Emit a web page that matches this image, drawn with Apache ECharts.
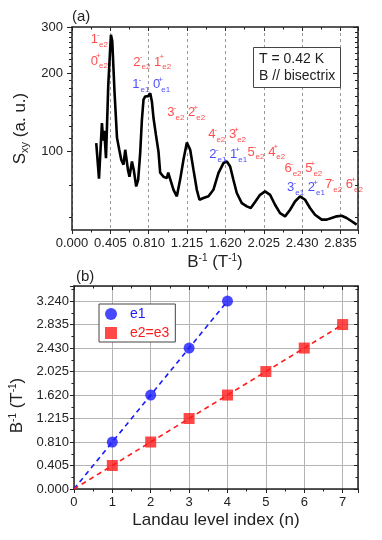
<!DOCTYPE html>
<html>
<head>
<meta charset="utf-8">
<script src="https://cdn.jsdelivr.net/npm/echarts@6/dist/echarts.min.js"></script>
<style>
  html, body { margin: 0; padding: 0; background: #fff; }
  #chart { width: 382px; height: 540px; }
</style>
</head>
<body>
<div id="chart"></div>
<script>
// (a) thermoelectric signal vs inverse field
const bInv = [0.256, 0.285, 0.316, 0.33, 0.341, 0.359, 0.383, 0.411, 0.425, 0.449, 0.475, 0.499, 0.52, 0.544,
  0.562, 0.591, 0.607, 0.633, 0.652, 0.678, 0.699, 0.72, 0.738, 0.755, 0.773, 0.805, 0.826, 0.844, 0.861,
  0.886, 0.913, 0.931, 0.966, 1.002, 1.016, 1.037, 1.072, 1.107, 1.142, 1.177, 1.213, 1.219, 1.248, 1.283,
  1.318, 1.346, 1.388, 1.441, 1.493, 1.546, 1.599, 1.635, 1.67, 1.704, 1.74, 1.793, 1.846, 1.888, 1.933,
  1.986, 2.039, 2.092, 2.144, 2.197, 2.25, 2.303, 2.355, 2.408, 2.461, 2.513, 2.566, 2.637, 2.689, 2.742,
  2.795, 2.848, 2.9, 2.953, 3.006];
const sxy = [107.7, 78.6, 128.5, 110, 120, 94.3, 180, 280, 265, 169, 113, 101.5, 93, 89,
  101.5, 85, 80, 91.5, 85, 73.4, 78, 98.6, 132, 158, 162.5, 163, 167, 155, 134,
  116, 100, 83, 80, 79, 83, 82, 71.3, 67.3, 78, 93, 108.3, 109, 101.5, 85,
  71.3, 65.3, 66.3, 67.3, 71.3, 82.6, 90.2, 91.5, 87.6, 77.9, 69.3, 63.4, 61.6, 60.7, 64,
  68.2, 70.3, 68.2, 62.5, 58, 56.4, 59.8, 64.3, 67.3, 65.3, 60.7, 57.2, 54.8, 54.8, 55.6,
  56.4, 56.7, 55.6, 54, 52.4];
const yMajor = [100, 200, 300];
const yMinor = [56, 74, 112.5, 125, 137.5, 150, 162.5, 175, 187.5, 212.5, 225, 237.5, 250, 262.5, 275, 287.5];

// peak assignments
const redLabX = [0.288, 0.288, 0.847, 1.206, 1.638, 2.052, 2.443, 2.872];
const redLabY = [268, 222, 220, 140.6, 115.8, 99.6, 85.8, 74.5];
const redLabText = ['1{p|-}{b|e2}', '0{p|+}{b|e2}', '2{p|-}{b|e2} 1{p|+}{b|e2}', '3{p|-}{b|e2} 2{p|+}{b|e2}',
  '4{p|-}{b|e2} 3{p|+}{b|e2}', '5{p|-}{b|e2} 4{p|+}{b|e2}', '6{p|-}{b|e2} 5{p|+}{b|e2}', '7{p|-}{b|e2} 6{p|+}{b|e2}'];
const blueLabX = [0.836, 1.649, 2.471];
const blueLabY = [180, 97.1, 72.6];
const blueLabText = ['1{p|-}{b|e1} 0{p|+}{b|e1}', '2{p|-}{b|e1} 1{p|+}{b|e1}', '3{p|-}{b|e1} 2{p|+}{b|e1}'];

// (b) Landau level index
const nE1 = [1, 2, 3, 4];
const bE1 = [0.81, 1.62, 2.43, 3.24];
const nE2 = [1, 2, 3, 4, 5, 6, 7];
const bE2 = [0.405, 0.81, 1.215, 1.62, 2.025, 2.43, 2.835];
const fitE1 = [[0, 0], [4, 3.24]];
const fitE2 = [[0, 0], [7, 2.835]];

const FONT = 'Liberation Sans, Arial, sans-serif';
const INK = '#222';
const fix3 = v => Number(v).toFixed(3);
const lg = v => Math.log10(v);

const frame = { show: true, onZero: false, lineStyle: { color: INK, width: 1.5 } };
const lbl = { fontFamily: FONT, fontSize: 13, color: INK };

// superscript takes no width so the subscript sits under it
const annRich = color => ({
  p: { fontFamily: FONT, fontSize: 8, color: color, verticalAlign: 'top', lineHeight: 18, width: 1 },
  b: { fontFamily: FONT, fontSize: 8, color: color, verticalAlign: 'bottom', lineHeight: 18 }
});

const chart = echarts.init(document.getElementById('chart'));
chart.setOption({
  animation: false,
  textStyle: { fontFamily: FONT },
  title: [
    { text: '(a)', left: 67, top: 4, textStyle: { fontSize: 15, fontWeight: 'normal', color: INK, fontFamily: FONT } },
    { text: '(b)', left: 71, top: 264, textStyle: { fontSize: 15, fontWeight: 'normal', color: INK, fontFamily: FONT } },
    { text: 'T = 0.42 K\nB // bisectrix', left: 253, top: 47, padding: [3, 6, 3, 6], z: 10,
      borderColor: '#444', borderWidth: 1, backgroundColor: '#fff',
      textStyle: { fontSize: 14, fontWeight: 'normal', color: INK, fontFamily: FONT, lineHeight: 17.5 } }
  ],
  legend: {
    left: 99, top: 304, orient: 'vertical', padding: [3, 6, 2, 6],
    borderColor: '#444', borderWidth: 1, itemWidth: 28, itemHeight: 12, itemGap: 5,
    backgroundColor: '#fff',
    textStyle: { fontFamily: FONT, fontSize: 14 },
    data: [
      { name: 'e1', icon: 'circle', textStyle: { color: '#1a1aff' } },
      { name: 'e2=e3', icon: 'path://M0,0L10,0L10,10L0,10Z', textStyle: { color: '#ff1a1a' } }
    ]
  },
  grid: [
    { left: 72, right: 24, top: 27, height: 203 },
    { left: 71, right: 24, top: 286, height: 203 }
  ],
  xAxis: [
    { type: 'value', gridIndex: 0, min: 0, max: 3.02, interval: 0.405,
      name: 'B{p|-1} (T{p|-1})', nameLocation: 'middle', nameGap: 23,
      nameTextStyle: { fontSize: 17, color: INK, fontFamily: FONT, rich: { p: { fontSize: 10, verticalAlign: 'top', lineHeight: 18, color: INK } } },
      axisLine: frame, axisTick: { inside: false, length: 4, lineStyle: { color: INK } },
      minorTick: { show: true, splitNumber: 2, length: 2.5, lineStyle: { color: INK } },
      axisLabel: Object.assign({ formatter: fix3, showMaxLabel: false, margin: 7 }, lbl),
      splitLine: { show: true, lineStyle: { color: '#999', type: [3, 3], width: 1 } } },
    { type: 'value', gridIndex: 0, position: 'top', min: 0, max: 3.02, interval: 0.405,
      axisLine: frame, axisTick: { inside: true, length: 4, lineStyle: { color: INK } },
      minorTick: { show: true, splitNumber: 2, length: 2.5, lineStyle: { color: INK } },
      axisLabel: { show: false }, splitLine: { show: false } },
    { type: 'value', gridIndex: 1, min: 0, max: 7.4, interval: 1,
      name: 'Landau level index (n)', nameLocation: 'middle', nameGap: 23,
      nameTextStyle: { fontSize: 17, color: INK, fontFamily: FONT },
      axisLine: frame, axisTick: { inside: false, length: 4, lineStyle: { color: INK } },
      minorTick: { show: true, splitNumber: 2, length: 2.5, lineStyle: { color: INK } },
      axisLabel: Object.assign({ showMaxLabel: false, margin: 7 }, lbl),
      splitLine: { show: true, lineStyle: { color: '#b4b4b4', width: 1 } } },
    { type: 'value', gridIndex: 1, position: 'top', min: 0, max: 7.4, interval: 1,
      axisLine: frame, axisTick: { inside: true, length: 4, lineStyle: { color: INK } },
      minorTick: { show: true, splitNumber: 2, length: 2.5, lineStyle: { color: INK } },
      axisLabel: { show: false }, splitLine: { show: false } }
  ],
  yAxis: [
    // log scale carrying the curve
    { type: 'log', gridIndex: 0, min: 50, max: 300, logBase: 10,
      axisLine: frame, axisTick: { show: false }, axisLabel: { show: false }, splitLine: { show: false } },
    // tick marks and labels at 100/200/300 laid on the same log positions
    { type: 'value', gridIndex: 0, position: 'left', min: lg(50), max: lg(300),
      name: 'S{b|xy} (a. u.)', nameLocation: 'middle', nameGap: 31,
      nameTextStyle: { fontSize: 17, color: INK, fontFamily: FONT, rich: { b: { fontSize: 11, verticalAlign: 'bottom', lineHeight: 20, color: INK } } },
      axisLine: { show: false },
      axisTick: { inside: false, length: 5, customValues: yMajor.map(lg), lineStyle: { color: INK } },
      axisLabel: Object.assign({ customValues: yMajor.map(lg), formatter: v => Math.round(Math.pow(10, v)), margin: 9 }, lbl),
      splitLine: { show: false } },
    { type: 'value', gridIndex: 0, position: 'left', min: lg(50), max: lg(300),
      axisLine: { show: false },
      axisTick: { inside: false, length: 3, customValues: yMinor.map(lg), lineStyle: { color: INK } },
      axisLabel: { show: false }, splitLine: { show: false } },
    { type: 'value', gridIndex: 0, position: 'right', min: lg(50), max: lg(300),
      axisLine: frame,
      axisTick: { inside: true, length: 5, customValues: yMajor.map(lg), lineStyle: { color: INK } },
      axisLabel: { show: false }, splitLine: { show: false } },
    { type: 'value', gridIndex: 0, position: 'right', min: lg(50), max: lg(300),
      axisLine: { show: false },
      axisTick: { inside: true, length: 3, customValues: yMinor.map(lg), lineStyle: { color: INK } },
      axisLabel: { show: false }, splitLine: { show: false } },
    { type: 'value', gridIndex: 1, min: 0, max: 3.5, interval: 0.405,
      name: 'B{p|-1} (T{p|-1}){g|}', nameLocation: 'middle', nameGap: 46,
      nameTextStyle: { fontSize: 17, color: INK, fontFamily: FONT, rich: {
        p: { fontSize: 10, verticalAlign: 'top', lineHeight: 18, color: INK },
        g: { width: 36 } } },
      axisLine: frame, axisTick: { inside: false, length: 4, lineStyle: { color: INK } },
      minorTick: { show: true, splitNumber: 2, length: 2.5, lineStyle: { color: INK } },
      axisLabel: Object.assign({ formatter: fix3, showMaxLabel: false, margin: 5 }, lbl),
      splitLine: { show: true, lineStyle: { color: '#b4b4b4', width: 1 } } },
    { type: 'value', gridIndex: 1, position: 'right', min: 0, max: 3.5, interval: 0.405,
      axisLine: frame, axisTick: { inside: true, length: 4, lineStyle: { color: INK } },
      minorTick: { show: true, splitNumber: 2, length: 2.5, lineStyle: { color: INK } },
      axisLabel: { show: false }, splitLine: { show: false } }
  ],
  series: [
    { type: 'line', xAxisIndex: 0, yAxisIndex: 0, showSymbol: false, symbol: 'none', z: 5,
      lineStyle: { color: '#000', width: 2.6 },
      data: bInv.map((b, i) => [b, sxy[i]]) },
    { type: 'scatter', xAxisIndex: 0, yAxisIndex: 0, symbolSize: 0, clip: false, silent: true, z: 6,
      label: { show: true, position: 'inside', fontFamily: FONT, fontSize: 13, color: '#ff2020', lineHeight: 18,
        formatter: p => redLabText[p.dataIndex], rich: annRich('#ff2020') },
      data: redLabX.map((x, i) => [x, redLabY[i]]) },
    { type: 'scatter', xAxisIndex: 0, yAxisIndex: 0, symbolSize: 0, clip: false, silent: true, z: 6,
      label: { show: true, position: 'inside', fontFamily: FONT, fontSize: 13, color: '#2020ff', lineHeight: 18,
        formatter: p => blueLabText[p.dataIndex], rich: annRich('#2020ff') },
      data: blueLabX.map((x, i) => [x, blueLabY[i]]) },
    { type: 'line', xAxisIndex: 2, yAxisIndex: 5, symbol: 'none', z: 3,
      lineStyle: { color: '#1a1aff', width: 1.6, type: [5, 4] }, data: fitE1 },
    { type: 'line', xAxisIndex: 2, yAxisIndex: 5, symbol: 'none', z: 3,
      lineStyle: { color: '#ff1a1a', width: 1.6, type: [5, 4] }, data: fitE2 },
    { name: 'e1', type: 'scatter', xAxisIndex: 2, yAxisIndex: 5, symbol: 'circle', symbolSize: 11, z: 4,
      itemStyle: { color: '#1a1aff' }, data: nE1.map((n, i) => [n, bE1[i]]) },
    { name: 'e2=e3', type: 'scatter', xAxisIndex: 2, yAxisIndex: 5, symbol: 'rect', symbolSize: 11, z: 4,
      itemStyle: { color: '#ff1a1a' }, data: nE2.map((n, i) => [n, bE2[i]]) }
  ]
});
</script>
</body>
</html>
